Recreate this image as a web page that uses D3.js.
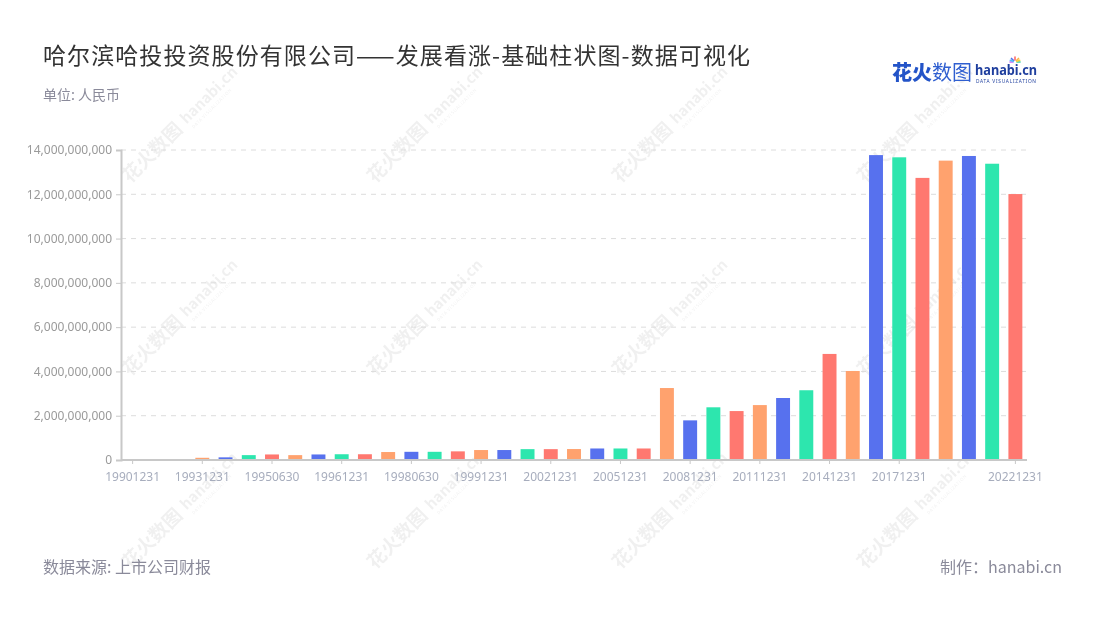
<!DOCTYPE html>
<html><head><meta charset="utf-8">
<script src="https://cdn.jsdelivr.net/npm/d3@7"></script>
<style>
html,body{margin:0;padding:0;background:#fff;}
svg{display:block;font-family:"Noto Sans CJK SC","Noto Sans",sans-serif;}
</style></head>
<body><svg id="c" width="1100" height="620"></svg>
<script>
const categories = ["19901231","19911231","19921231","19931231","19940630","19941231","19950630","19951231","19960630","19961231","19970630","19971231","19980630","19981231","19990630","19991231","20001231","20011231","20021231","20031231","20041231","20051231","20061231","20071231","20081231","20091231","20101231","20111231","20121231","20131231","20141231","20151231","20161231","20171231","20181231","20191231","20201231","20211231","20221231"];
const values = [null,null,null,1.0e8,1.2e8,2.2e8,2.5e8,2.2e8,2.5e8,2.6e8,2.6e8,3.6e8,3.7e8,3.7e8,3.9e8,4.5e8,4.5e8,4.9e8,4.9e8,4.95e8,5.2e8,5.2e8,5.2e8,3.25e9,1.79e9,2.38e9,2.21e9,2.48e9,2.80e9,3.15e9,4.79e9,4.02e9,1.377e10,1.367e10,1.274e10,1.352e10,1.373e10,1.338e10,1.201e10];
const yTicks = [0,2e9,4e9,6e9,8e9,10e9,12e9,14e9];
const shownLabels = ["19901231","19931231","19950630","19961231","19980630","19991231","20021231","20051231","20081231","20111231","20141231","20171231","20221231"];
const palette = ["#5771ee","#2de6ae","#ff7870","#ffa26e"];

const svg = d3.select("#c");
const L = 121, R = 1027, T = 150, B = 460;

// watermarks
const wm = svg.append("g").attr("opacity",0.06);
for (let i=0;i<4;i++) for (let j=0;j<3;j++){
  const g = wm.append("g").attr("transform",`translate(${130+245*i},${184+193*j}) rotate(-45)`);
  g.append("text").attr("font-size",19).attr("font-weight",700).attr("fill","#000").text("花火数图");
  g.append("text").attr("x",82).attr("y",-2).attr("font-size",15).attr("font-weight",700).attr("fill","#000").text("hanabi.cn");
  g.append("text").attr("x",84).attr("y",6).attr("font-size",4.5).attr("fill","#000").attr("letter-spacing",0.6).text("DATA VISUALIZATION");
}

const x = d3.scaleBand().domain(categories).range([L,R]).paddingInner(0.4).paddingOuter(0.2);
const y = d3.scaleLinear().domain([0,14e9]).range([B,T]);

// grid
svg.append("g").selectAll("line").data(yTicks.filter(d=>d>0)).join("line")
  .attr("x1",L).attr("x2",R).attr("y1",d=>y(d)).attr("y2",d=>y(d))
  .attr("stroke","#dcdcdc").attr("stroke-dasharray","5,5").attr("stroke-width",1);

// y axis
const yAxis = svg.append("g").attr("transform",`translate(${L},0)`)
  .call(d3.axisLeft(y).tickValues(yTicks).tickFormat(d3.format(",")).tickSize(5).tickPadding(4));
yAxis.select(".domain").attr("stroke","#c8c8c8").attr("stroke-width",2);
yAxis.selectAll(".tick line").attr("stroke","#c8c8c8");
yAxis.selectAll("text").attr("fill","#9a9a9a").attr("font-size",12).attr("font-family","Noto Sans, sans-serif");

// bars
svg.append("g").selectAll("rect").data(categories.map((c,i)=>({c,v:values[i],i})).filter(d=>d.v!=null)).join("rect")
  .attr("x",d=>x(d.c)).attr("width",x.bandwidth())
  .attr("y",d=>y(d.v)).attr("height",d=>B-y(d.v))
  .attr("fill",d=>palette[d.i%4]);

// x axis
const xAxis = svg.append("g").attr("transform",`translate(0,${B})`)
  .call(d3.axisBottom(x).tickValues(shownLabels).tickSize(4).tickPadding(8).tickSizeOuter(0));
xAxis.select(".domain").attr("stroke","#c8c8c8").attr("stroke-width",2).attr("d",`M${L},0H${R}`);
xAxis.selectAll(".tick line").attr("stroke","#c8c8c8");
xAxis.selectAll("text").attr("fill","#a7adbd").attr("font-size",12).attr("font-family","Noto Sans, sans-serif");

// title & texts
svg.append("text").attr("x",43).attr("y",64).attr("font-size",23).attr("fill","#333")
  .attr("textLength",707).attr("lengthAdjust","spacing")
  .text("哈尔滨哈投投资股份有限公司——发展看涨-基础柱状图-数据可视化");
svg.append("text").attr("x",43).attr("y",100).attr("font-size",14).attr("fill","#8a8a9a").text("单位: 人民币");
svg.append("text").attr("x",43).attr("y",573).attr("font-size",16).attr("fill","#8a8a9a").text("数据来源: 上市公司财报");
svg.append("text").attr("x",1062).attr("y",573).attr("text-anchor","end").attr("font-size",16).attr("fill","#8a8a9a").text("制作：hanabi.cn");

// logo
const lg = svg.append("g");
lg.append("text").attr("x",892).attr("y",80).attr("font-size",20).attr("font-weight",900).attr("fill","#2354c8").text("花火");
lg.append("text").attr("x",932).attr("y",80).attr("font-size",20).attr("font-weight",400).attr("fill","#2f5fd0").text("数图");
lg.append("text").attr("x",975).attr("y",75).attr("font-size",14).attr("font-weight",700).attr("fill","#1f3f9e")
  .attr("textLength",62).attr("lengthAdjust","spacingAndGlyphs").attr("font-family","Noto Sans, sans-serif").text("hanabi.cn");
lg.append("text").attr("x",976).attr("y",83).attr("font-size",4.8).attr("fill","#1f3f9e")
  .attr("textLength",60).attr("lengthAdjust","spacing").attr("font-family","Noto Sans, sans-serif").text("DATA VISUALIZATION");
const fw = [["#ff6b6b",-90],["#ffb347",-45],["#3ad29f",0],["#5771ee",-135],["#c86bfa",180],["#f4d03f",-20],["#4fc3f7",-160]];
fw.forEach(([c,a])=>{
  const r = a*Math.PI/180;
  lg.append("line").attr("x1",1015+Math.cos(r)*2).attr("y1",62+Math.sin(r)*2)
    .attr("x2",1015+Math.cos(r)*5).attr("y2",62+Math.sin(r)*5)
    .attr("stroke",c).attr("stroke-width",1.6).attr("stroke-linecap","round");
});
</script></body></html>
